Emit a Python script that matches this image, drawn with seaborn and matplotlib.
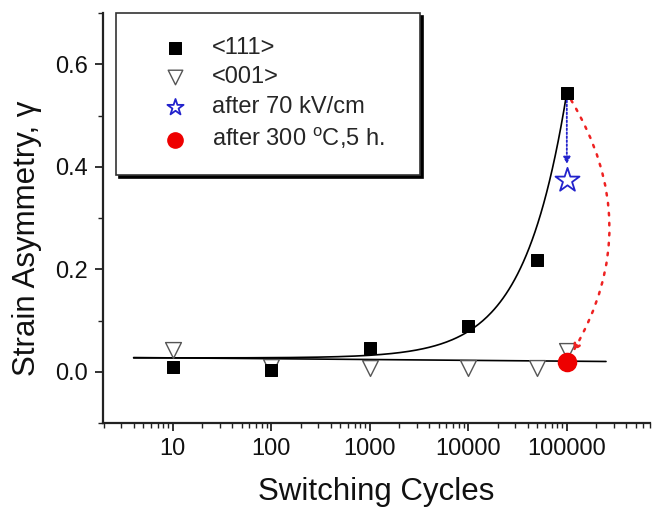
import numpy as np
import pandas as pd
import matplotlib
matplotlib.use("Agg")
import matplotlib.pyplot as plt
import seaborn as sns
from matplotlib.patches import FancyArrowPatch
from matplotlib.ticker import LogLocator, NullFormatter, FixedLocator, MultipleLocator

# ---- data ----
cycles = [10, 100, 1000, 10000, 50000, 100000]
gamma_111 = [0.010, 0.004, 0.046, 0.090, 0.219, 0.545]
gamma_001 = [0.043, 0.010, 0.008, 0.008, 0.008, 0.040]
star_x = [100000]
star_y = [0.375]
anneal_x = [100000]
anneal_y = [0.020]

# fitted lines, parameters
fit111_a, fit111_b = 0.027, 5.18e-6          # y = a + b*x
fit111_range = (4, 100000)
fit001_a, fit001_b = 0.0287, -0.0016         # y = a + b*log10(x)
fit001_range = (4, 250000)

xticks = [10, 100, 1000, 10000, 100000]
xticklabels = ["10", "100", "1000", "10000", "100000"]
yticks = [0.0, 0.2, 0.4, 0.6]
yticklabels = ["0.0", "0.2", "0.4", "0.6"]

legend_labels = ["<111>", "<001>", "after 70 kV/cm", "after 300 $^{\\mathrm{o}}$C,5 h."]

sns.set_style("ticks")
plt.rcParams["font.family"] = ["Liberation Sans", "DejaVu Sans"]
plt.rcParams["mathtext.fontset"] = "custom"
plt.rcParams["mathtext.rm"] = "Liberation Sans"

fig = plt.figure(figsize=(6.64, 5.09), dpi=100)
ax = fig.add_axes([0.155, 0.169, 0.824, 0.805])

# fit curves
x1 = np.logspace(np.log10(fit111_range[0]), np.log10(fit111_range[1]), 300)
x2 = np.logspace(np.log10(fit001_range[0]), np.log10(fit001_range[1]), 300)
fits = pd.DataFrame({"x": x1, "y": fit111_a + fit111_b * x1})
fits2 = pd.DataFrame({"x": x2, "y": fit001_a + fit001_b * np.log10(x2)})
sns.lineplot(data=fits, x="x", y="y", color="black", lw=1.2, ax=ax, zorder=2)
sns.lineplot(data=fits2, x="x", y="y", color="black", lw=1.2, ax=ax, zorder=2)

# points
sns.scatterplot(x=cycles, y=gamma_111, marker="s", color="black", s=80,
                edgecolor="black", ax=ax, zorder=4, label=legend_labels[0])
sns.scatterplot(x=cycles, y=gamma_001, marker="v", facecolor="white", s=130,
                edgecolor="#555555", linewidth=1.0, ax=ax, zorder=3, label=legend_labels[1])
sns.scatterplot(x=star_x, y=star_y, marker="*", facecolor="white", s=330,
                edgecolor="#2222cc", linewidth=1.3, ax=ax, zorder=4, label=legend_labels[2])
sns.scatterplot(x=anneal_x, y=anneal_y, marker="o", color="#ee0000", s=170,
                edgecolor="#ee0000", ax=ax, zorder=5, label=legend_labels[3])

# arrows
ax.add_patch(FancyArrowPatch((star_x[0], gamma_111[-1] - 0.01), (star_x[0], star_y[0] + 0.025),
                             arrowstyle="-|>,head_length=4,head_width=2", color="#2222cc",
                             lw=1.3, linestyle=(0, (1, 1.2)), zorder=3))
ax.add_patch(FancyArrowPatch((star_x[0] * 1.07, gamma_111[-1] - 0.01),
                             (anneal_x[0] * 1.12, anneal_y[0] + 0.015),
                             connectionstyle="arc3,rad=-0.3",
                             arrowstyle="-|>,head_length=4,head_width=2", color="#ee2222",
                             lw=1.8, linestyle=(0, (1, 3)), zorder=3))

ax.set_xscale("log")
ax.set_xlim(1.95, 7e5)
ax.set_ylim(-0.1, 0.7)
ax.xaxis.set_major_locator(FixedLocator(xticks))
ax.set_xticklabels(xticklabels)
ax.xaxis.set_minor_locator(LogLocator(base=10, subs=np.arange(2, 10)))
ax.xaxis.set_minor_formatter(NullFormatter())
ax.set_yticks(yticks)
ax.set_yticklabels(yticklabels)
ax.yaxis.set_minor_locator(MultipleLocator(0.1))

for side in ["top", "right"]:
    ax.spines[side].set_visible(False)
for side in ["left", "bottom"]:
    ax.spines[side].set_linewidth(1.6)
    ax.spines[side].set_color("#222222")
ax.tick_params(axis="both", which="major", length=6, width=1.3, labelsize=17,
               color="#222222", labelcolor="#111111", pad=5)
ax.tick_params(axis="both", which="minor", length=3.5, width=1.0, color="#222222")

ax.set_xlabel("Switching Cycles", fontsize=22.5, labelpad=12, color="#111111")
ax.set_ylabel("Strain Asymmetry, γ", fontsize=22.5, color="#111111")
ax.yaxis.set_label_coords(-0.112, 0.45)

leg = ax.legend(loc="upper left", bbox_to_anchor=(0.024, 0.5, 0.556, 0.5), mode="expand",
                frameon=True, fancybox=False, edgecolor="#333333", framealpha=1, fontsize=17,
                shadow={"color": "black", "alpha": 1.0}, borderpad=1.0,
                labelspacing=0.32, handlelength=3.0, handletextpad=0.05, borderaxespad=0)
leg.get_frame().set_linewidth(1.2)
for h, sz in zip(leg.legend_handles, [70, 110, 150, 120]):
    h.set_sizes([sz])

fig.savefig("out.png", dpi=100)
